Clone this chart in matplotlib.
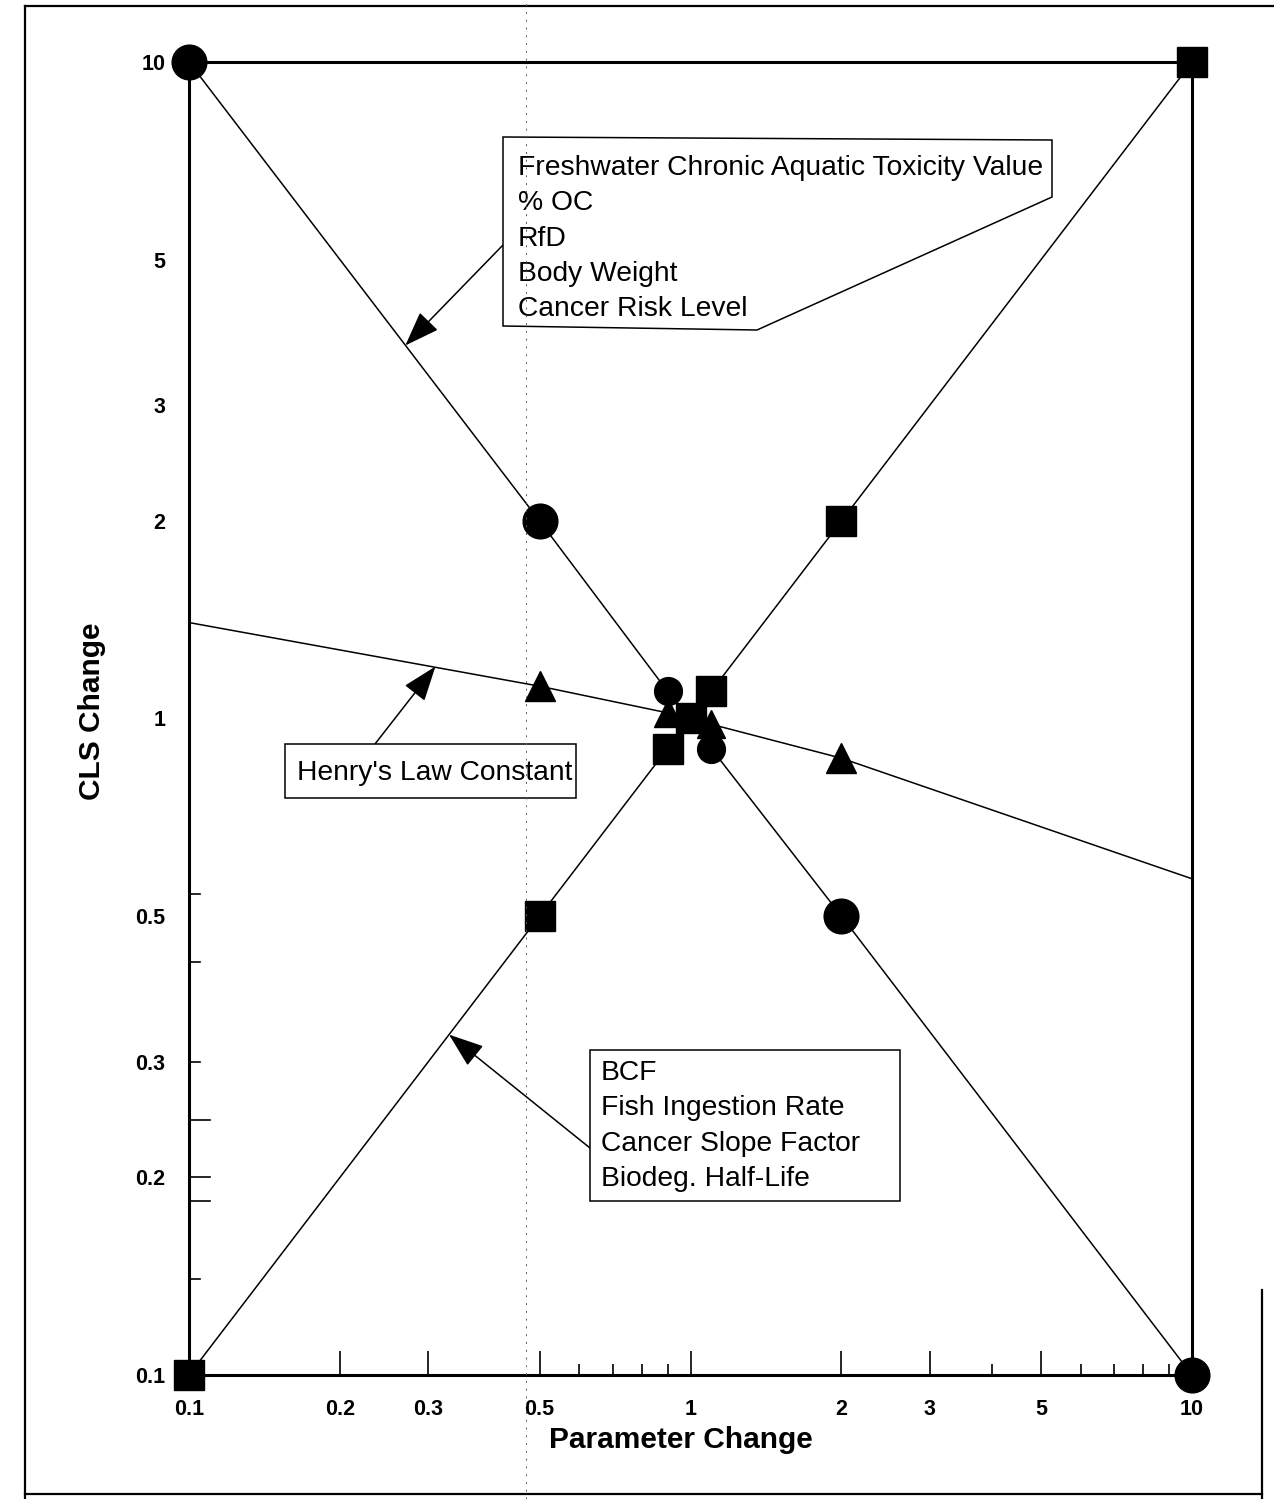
#!/usr/bin/env python3
import numpy as np
import matplotlib
matplotlib.use("Agg")
import matplotlib.pyplot as plt
from matplotlib.patches import Polygon, Rectangle
from matplotlib.lines import Line2D
from matplotlib.ticker import FixedLocator, NullFormatter

plt.rcParams["font.family"] = ["Liberation Sans", "DejaVu Sans"]

# data (log-log, parameter change vs CLS change)
param_circle = [0.1, 0.5, 0.9, 1.0, 1.1, 2, 10]
cls_circle = [10, 2, 1.1, 1.0, 0.9, 0.5, 0.1]

param_square = [0.1, 0.5, 0.9, 1.0, 1.1, 2, 10]
cls_square = [0.1, 0.5, 0.9, 1.0, 1.1, 2, 10]

param_henry = [0.1, 0.5, 0.9, 1.0, 1.1, 2, 10]
cls_henry = [1.40, 1.12, 1.02, 1.0, 0.98, 0.87, 0.57]

tick_values = [0.1, 0.2, 0.3, 0.5, 1, 2, 3, 5, 10]
tick_labels = ["0.1", "0.2", "0.3", "0.5", "1", "2", "3", "5", "10"]
x_minor = [0.6, 0.7, 0.8, 0.9, 4, 6, 7, 8, 9]
y_marks_short = [0.54, 0.425, 0.3, 0.14]
y_marks_long = [0.245, 0.2, 0.184]

upper_labels = ["Freshwater Chronic Aquatic Toxicity Value", "% OC", "RfD",
                "Body Weight", "Cancer Risk Level"]
henry_label = "Henry's Law Constant"
lower_labels = ["BCF", "Fish Ingestion Rate", "Cancer Slope Factor",
                "Biodeg. Half-Life"]

W, H = 1274, 1499


def fx(px):
    return px / W


def fy(py):
    return 1 - py / H


fig = plt.figure(figsize=(W / 100, H / 100), dpi=100)
ax = fig.add_axes([fx(189), fy(1375), (1192 - 189) / W, (1375 - 62) / H])
ax.set_xscale("log")
ax.set_yscale("log")
ax.set_xlim(0.1, 10)
ax.set_ylim(0.1, 10)

for s in ax.spines.values():
    s.set_linewidth(2.2)

# lines
ax.plot(param_circle, cls_circle, color="black", lw=1.1, zorder=2)
ax.plot(param_square, cls_square, color="black", lw=1.1, zorder=2)
ax.plot(param_henry, cls_henry, color="black", lw=1.1, zorder=2)


def markers(xs, ys, marker, big, small, z, skip_ends=False):
    xs = np.array(xs, dtype=float)
    ys = np.array(ys, dtype=float)
    inner = np.abs(np.log10(xs)) < 0.1
    keep = np.ones(len(xs), bool)
    if skip_ends:
        keep[0] = keep[-1] = False
    outer = keep & ~inner
    ax.plot(xs[outer], ys[outer], ls="none", marker=marker, ms=big,
            color="black", clip_on=False, zorder=z)
    ax.plot(xs[keep & inner], ys[keep & inner], ls="none", marker=marker,
            ms=small, color="black", clip_on=False, zorder=z)


markers(param_henry, cls_henry, "^", 22, 20, 3, skip_ends=True)
markers(param_circle, cls_circle, "o", 25, 20, 4)
markers(param_square, cls_square, "s", 21, 21, 5)

# ticks
ax.xaxis.set_major_locator(FixedLocator(tick_values))
ax.xaxis.set_minor_locator(FixedLocator(x_minor))
ax.xaxis.set_minor_formatter(NullFormatter())
ax.set_xticklabels(tick_labels)
ax.tick_params(axis="x", which="major", direction="in", length=17, width=1.2,
               pad=17, labelsize=15.5)
ax.tick_params(axis="x", which="minor", direction="in", length=8, width=1.2)
for t in (ax.xaxis.get_major_ticks()[0], ax.xaxis.get_major_ticks()[-1]):
    t.tick1line.set_visible(False)

ax.yaxis.set_major_locator(FixedLocator(tick_values))
ax.yaxis.set_minor_locator(FixedLocator([]))
ax.set_yticklabels(tick_labels)
ax.tick_params(axis="y", which="major", length=0, pad=17, labelsize=15.5)
for lab in ax.get_xticklabels() + ax.get_yticklabels():
    lab.set_fontweight("bold")

ytr = ax.get_yaxis_transform()
for v in y_marks_short:
    ax.plot([0, 0.011], [v, v], color="black", lw=1.2, transform=ytr,
            clip_on=False)
for v in y_marks_long:
    ax.plot([0, 0.021], [v, v], color="black", lw=1.2, transform=ytr,
            clip_on=False)

fig.text(fx(681), fy(1440), "Parameter Change", fontsize=21.5,
         fontweight="bold", ha="center", va="center")
fig.text(fx(92), fy(711), "CLS Change", fontsize=21.5, fontweight="bold",
         ha="center", va="center", rotation=90)

# callout boxes
box1 = Polygon([(fx(503), fy(137)), (fx(1052), fy(140)), (fx(1052), fy(197)),
                (fx(757), fy(330)), (fx(503), fy(326))], closed=True,
               transform=fig.transFigure, facecolor="white",
               edgecolor="black", lw=1.1, zorder=6)
fig.add_artist(box1)
for i, s in enumerate(upper_labels):
    fig.text(fx(518), fy(168 + 35.3 * i), s, fontsize=20.3, va="center",
             ha="left", zorder=7)

box2 = Rectangle((fx(285), fy(798)), fx(576 - 285), (798 - 744) / H,
                 transform=fig.transFigure, facecolor="white",
                 edgecolor="black", lw=1.1, zorder=6)
fig.add_artist(box2)
fig.text(fx(297), fy(773), henry_label, fontsize=20.3, va="center",
         ha="left", zorder=7)

box3 = Rectangle((fx(590), fy(1201)), fx(900 - 590), (1201 - 1050) / H,
                 transform=fig.transFigure, facecolor="white",
                 edgecolor="black", lw=1.1, zorder=6)
fig.add_artist(box3)
for i, s in enumerate(lower_labels):
    fig.text(fx(601), fy(1073 + 35.3 * i), s, fontsize=20.3, va="center",
             ha="left", zorder=7)

arrow = dict(arrowstyle="-|>,head_length=1.1,head_width=0.4",
             mutation_scale=20, color="black", lw=1.1, shrinkA=0, shrinkB=0)
ax.annotate("", xy=(0.27, 3.7), xycoords="data",
            xytext=(fx(503), fy(245)), textcoords="figure fraction",
            arrowprops=arrow, zorder=6)
ax.annotate("", xy=(0.31, 1.2), xycoords="data",
            xytext=(fx(375), fy(744)), textcoords="figure fraction",
            arrowprops=arrow, zorder=6)
ax.annotate("", xy=(0.33, 0.33), xycoords="data",
            xytext=(fx(590), fy(1148)), textcoords="figure fraction",
            arrowprops=arrow, zorder=6)

# page frame
frame = [((25, 6), (1274, 6)), ((25, 6), (25, 1499)),
         ((25, 1494), (1262, 1494)), ((1262, 1290), (1262, 1499))]
for (x0, y0), (x1, y1) in frame:
    fig.add_artist(Line2D([fx(x0), fx(x1)], [fy(y0), fy(y1)],
                          transform=fig.transFigure, color="black", lw=1.6))
# faint fold mark of the scan
fig.add_artist(Line2D([fx(526), fx(526)], [0, 1], transform=fig.transFigure,
                      color="0.35", lw=0.7, dashes=(2, 6), zorder=8))

fig.savefig("out.png", dpi=100)
